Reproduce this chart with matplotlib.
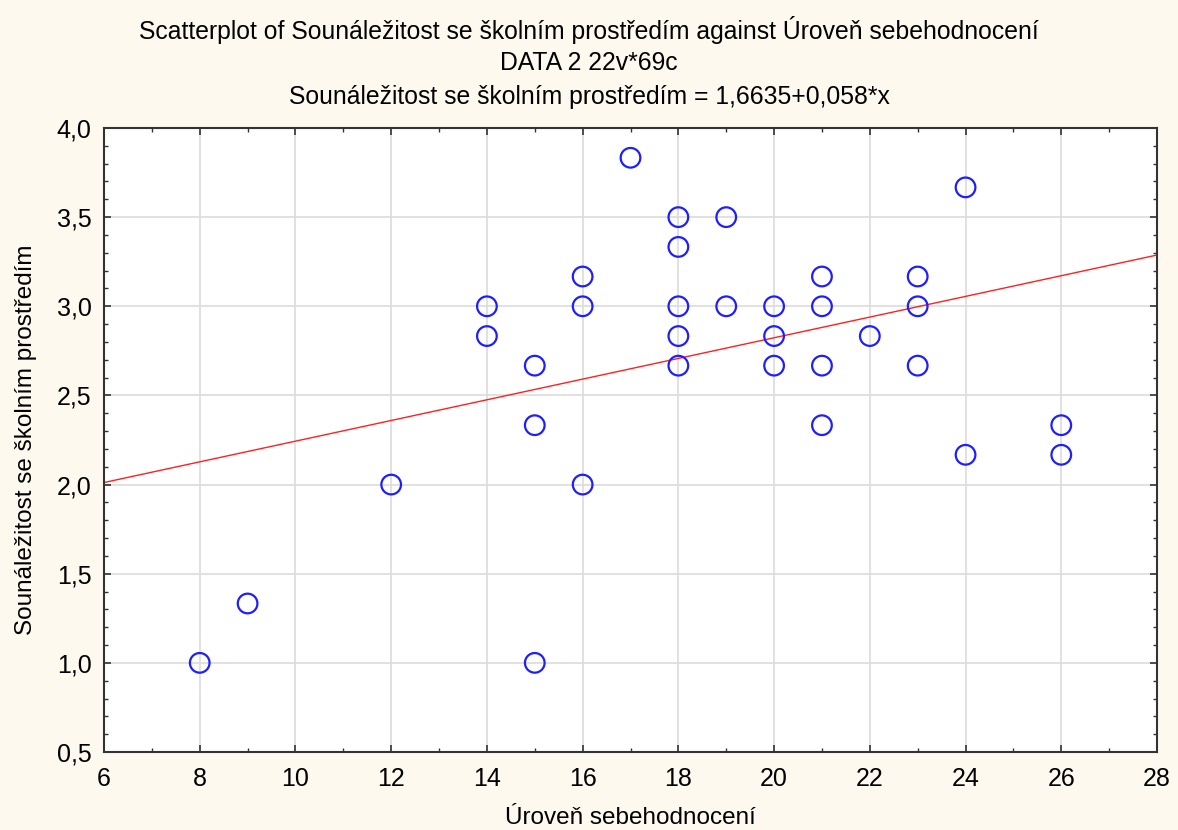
import matplotlib
matplotlib.use("Agg")
import matplotlib.pyplot as plt
from matplotlib.ticker import MultipleLocator, FuncFormatter
import numpy as np

x_vals = [8, 9, 12, 14, 14, 15, 15, 15, 16, 16, 16, 17,
          18, 18, 18, 18, 18, 19, 19, 20, 20, 20,
          21, 21, 21, 21, 22, 23, 23, 23, 24, 24, 26, 26]
y_vals = [1.0, 1.333, 2.0, 3.0, 2.833, 2.667, 2.333, 1.0, 3.167, 3.0, 2.0, 3.833,
          3.5, 3.333, 3.0, 2.833, 2.667, 3.5, 3.0, 3.0, 2.833, 2.667,
          3.167, 3.0, 2.667, 2.333, 2.833, 3.167, 3.0, 2.667, 3.667, 2.167, 2.333, 2.167]
intercept = 1.6635
slope = 0.058

title_lines = ["Scatterplot of Sounáležitost se školním prostředím against Úroveň sebehodnocení",
               "DATA 2 22v*69c",
               "Sounáležitost se školním prostředím = 1,6635+0,058*x"]
x_label = "Úroveň sebehodnocení"
y_label = "Sounáležitost se školním prostředím"

plt.rcParams['font.family'] = ['Liberation Sans', 'DejaVu Sans']

fig = plt.figure(figsize=(11.78, 8.30), dpi=100, facecolor='#FEF9EE')
ax = fig.add_axes([104/1178, 78/830, (1157-104)/1178, (752-128)/830])
ax.set_facecolor('white')

ax.set_xlim(6, 28)
ax.set_ylim(0.5, 4.0)
ax.xaxis.set_major_locator(MultipleLocator(2))
ax.xaxis.set_minor_locator(MultipleLocator(1))
ax.yaxis.set_major_locator(MultipleLocator(0.5))
ax.yaxis.set_minor_locator(MultipleLocator(0.1))
ax.yaxis.set_major_formatter(FuncFormatter(lambda v, p: f"{v:.1f}".replace('.', ',')))
ax.xaxis.set_major_formatter(FuncFormatter(lambda v, p: f"{v:g}"))

ax.grid(True, which='major', color='#DCDCDC', linewidth=1.2)
ax.set_axisbelow(True)
ax.tick_params(which='both', direction='in', top=True, right=True, color='#333333')
ax.tick_params(which='major', length=5, width=1.2, labelsize=18)
ax.tick_params(axis='x', which='major', pad=11)
ax.tick_params(axis='y', which='major', pad=9)
ax.tick_params(which='minor', length=3, width=1.0)
for s in ax.spines.values():
    s.set_color('#333333')
    s.set_linewidth(1.5)

xs = np.array([6, 28])
ax.plot(xs, intercept + slope * xs, color='#FF2020', linewidth=1.0, zorder=2)
ax.scatter(x_vals, y_vals, s=200, facecolors='none', edgecolors='#1E1EFF', linewidths=1.6, zorder=3)

ax.set_xlabel(x_label, fontsize=17.5)
ax.set_ylabel(y_label, fontsize=17.5)
ax.xaxis.set_label_coords(0.5, (752 - 818) / 624)
ax.yaxis.set_label_coords((26 - 104) / 1053, 0.5)
ax.xaxis.label.set_va('center')
ax.yaxis.label.set_va('center')

title_y = [30, 63, 97]
for t, yy in zip(title_lines, title_y):
    fig.text(0.5, 1 - yy / 830, t, ha='center', va='center', fontsize=17.8)

fig.savefig("out.png", dpi=100, facecolor=fig.get_facecolor())
